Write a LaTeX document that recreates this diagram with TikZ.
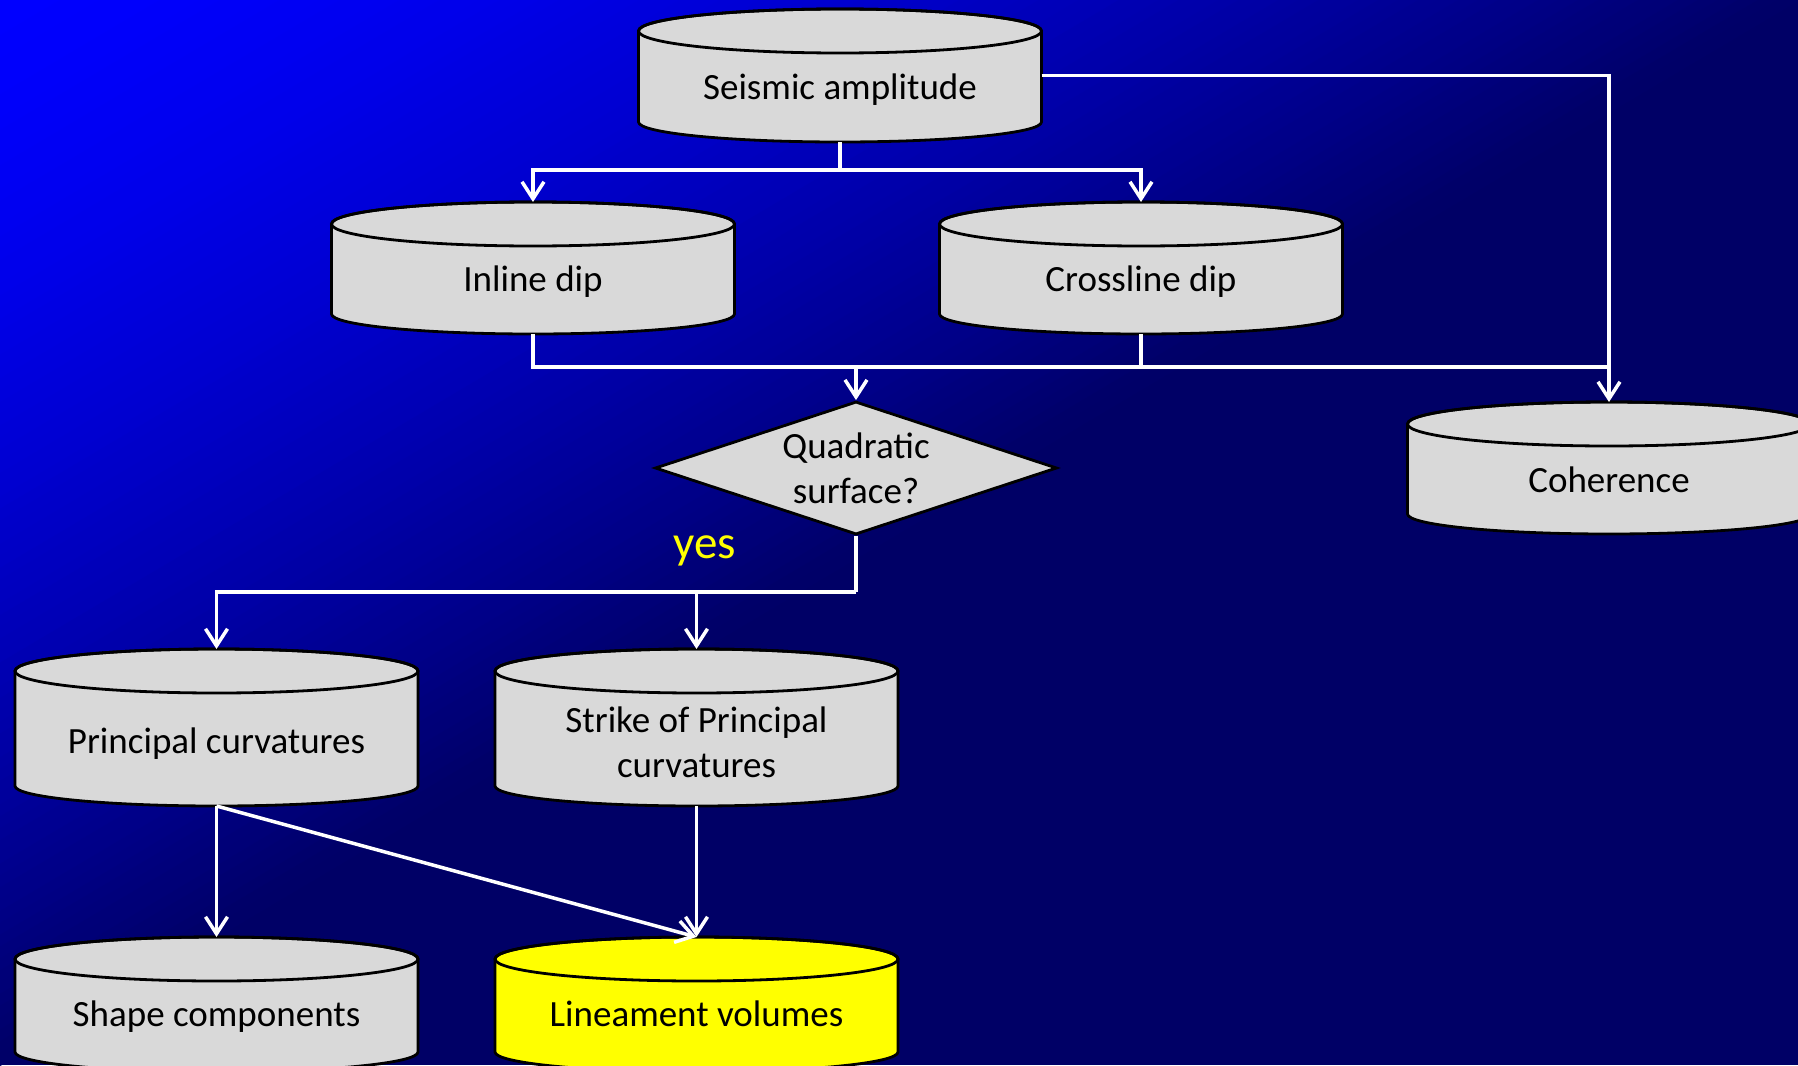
\documentclass[tikz,border=0pt]{standalone}
\usepackage{fontspec}
\setmainfont{Carlito}
\usetikzlibrary{arrows.meta,shapes.geometric,calc}

\pgfdeclarelayer{backdrop}
\pgfdeclarelayer{drums}
\pgfsetlayers{backdrop,drums,main}

\definecolor{slideblue}{RGB}{0,0,255}
\definecolor{slidenavy}{RGB}{0,0,102}
\definecolor{drumgray}{RGB}{217,217,217}
\definecolor{drumyellow}{RGB}{255,255,0}
\definecolor{yeslabel}{RGB}{255,255,0}

\newcommand\labelfont{\fontsize{37}{45}\selectfont}

% Cylinder ("data volume") body drawn behind the named node #1
\newcommand\drumbody[2]{%
  \begin{pgfonlayer}{drums}
    \path[fill=#2, draw=black, line width=2.8pt, line join=round]
      ([yshift=-22pt]#1.north west) -- ([yshift=20pt]#1.south west)
      arc[start angle=180, end angle=360, x radius=201.5pt, y radius=20pt]
      -- ([yshift=-22pt]#1.north east)
      arc[start angle=0, end angle=180, x radius=201.5pt, y radius=22pt] -- cycle;
    \draw[line width=2.8pt] ([yshift=-22pt]#1.north) ellipse[x radius=201.5pt, y radius=22pt];
  \end{pgfonlayer}}

\begin{document}
\begin{tikzpicture}[x=1pt, y=1pt,
  drum/.style={rectangle, inner sep=0pt, outer sep=0pt, minimum width=403pt, minimum height=#1},
  drumtext/.style={font=\labelfont, text=black, align=center, inner sep=0pt},
  oneline/.style={drumtext, text height=27pt, text depth=9pt},
  conn/.style={draw=white, line width=3.5pt},
  arrowed/.style={conn, -{Straight Barb[length=17pt, width=22pt]}},
]
\useasboundingbox (0,0) rectangle (1798,-1065);

% slide background: diagonal blue-to-navy gradient
\begin{pgfonlayer}{backdrop}
  \fill[slidenavy] (0,0) rectangle (1798,-1065);
  \begin{scope}
    \clip (0,0) rectangle (1798,-1065);
    \foreach \i in {0,...,89} {
      \pgfmathsetmacro\ua{\i/90}
      \pgfmathsetmacro\ub{(\i+1.1)/90}
      \pgfmathtruncatemacro\mix{round(100-100*((\i+0.5)/90)^1.5)}
      \fill[slideblue!\mix!slidenavy]
        ({\ua*899-1798},{-\ua*532.5-1065}) -- ({\ua*899+1798},{-\ua*532.5+1065})
        -- ({\ub*899+1798},{-\ub*532.5+1065}) -- ({\ub*899-1798},{-\ub*532.5-1065}) -- cycle;
    }
  \end{scope}
\end{pgfonlayer}

% data volumes
\node[drum=133pt] (seis)   at (840,-75.5)    {};
\node[drum=132pt] (inline) at (533,-268)     {};
\node[drum=132pt] (cross)  at (1141,-268)    {};
\node[drum=132pt] (coh)    at (1609,-468)    {};
\node[drum=157pt] (princ)  at (216.5,-727.5) {};
\node[drum=157pt] (strike) at (696.5,-727.5) {};
\node[drum=135pt] (shape)  at (216.5,-1004.5){};
\node[drum=135pt] (linea)  at (696.5,-1004.5){};

\drumbody{seis}{drumgray}
\drumbody{inline}{drumgray}
\drumbody{cross}{drumgray}
\drumbody{coh}{drumgray}
\drumbody{princ}{drumgray}
\drumbody{strike}{drumgray}
\drumbody{shape}{drumgray}
\drumbody{linea}{drumyellow}

\node[oneline]  (seislbl)   at ([yshift=-14.5pt]seis.center)   {Seismic amplitude};
\node[oneline]  (inlinelbl) at ([yshift=-14.5pt]inline.center) {Inline dip};
\node[oneline]  (crosslbl)  at ([yshift=-14.5pt]cross.center)  {Crossline dip};
\node[oneline]  (cohlbl)    at ([yshift=-15pt]coh.center)      {Coherence};
\node[oneline]  (princlbl)  at ([yshift=-17pt]princ.center)    {Principal curvatures};
\node[drumtext] (strikelbl) at ([yshift=-14.3pt]strike.center) {Strike of Principal\\curvatures};
\node[oneline]  (shapelbl)  at ([yshift=-13pt]shape.center)    {Shape components};
\node[oneline]  (linealbl)  at ([yshift=-13pt]linea.center)    {Lineament volumes};

% decision
\node[diamond, aspect=3, fill=drumgray, draw=black, line width=2.8pt,
      minimum width=402pt, minimum height=133pt, inner sep=0pt,
      font=\labelfont, align=center] (quad) at (856,-468) {Quadratic\\surface?};
\node[font=\fontsize{47}{56}\selectfont, text=yeslabel, inner sep=0pt] (yes) at (705,-551) {yes};

% connectors
\coordinate (fork1) at (840,-170);
\draw[conn] (seis.south) -- (fork1);
\draw[arrowed] (fork1) -| (inline.north);
\draw[arrowed] (fork1) -| (cross.north);
\draw[arrowed] (seis.east) -| (coh.north);

\coordinate (merge) at (1609,-367);
\draw[conn] (inline.south) |- (merge);
\draw[conn] (cross.south) -- (cross.south |- merge);
\draw[arrowed] (quad.north |- merge) -- (quad.north);

\coordinate (fork2) at (856,-592);
\draw[conn] (quad.south) -- (fork2);
\draw[arrowed] (fork2) -| (princ.north);
\draw[arrowed] (fork2) -| (strike.north);

\draw[arrowed] (princ.south) -- (shape.north);
\draw[arrowed] (princ.south) -- (linea.north);
\draw[arrowed] (strike.south) -- (linea.north);
\end{tikzpicture}
\end{document}
